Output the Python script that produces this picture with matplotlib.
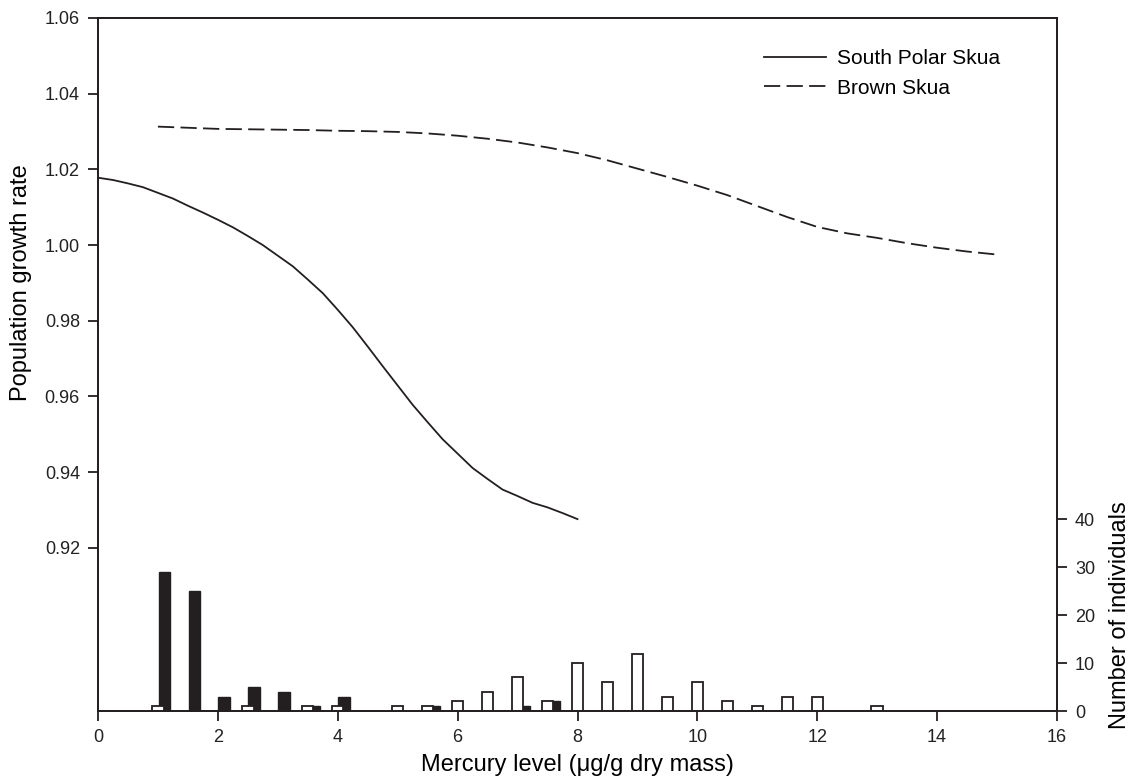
import numpy as np
import matplotlib
matplotlib.use('Agg')
import matplotlib.pyplot as plt

plt.rcParams['font.family'] = ['Liberation Sans', 'DejaVu Sans']

INK = '#231f20'

# population growth rate curves
sps_x = [0, 0.25, 0.5, 0.75, 1.0, 1.25, 1.5, 1.75, 2.0, 2.25, 2.5, 2.75, 3.0, 3.25,
         3.5, 3.75, 4.0, 4.25, 4.5, 4.75, 5.0, 5.25, 5.5, 5.75, 6.0, 6.25, 6.5,
         6.75, 7.0, 7.25, 7.5, 7.75, 8.0]
sps_y = [1.0178, 1.0172, 1.0163, 1.0153, 1.0138, 1.0123, 1.0104, 1.0086, 1.0067,
         1.0047, 1.0024, 1.0000, 0.9972, 0.9944, 0.9909, 0.9873, 0.9829, 0.9783,
         0.9732, 0.9680, 0.9629, 0.9578, 0.9532, 0.9487, 0.9449, 0.9411, 0.9382,
         0.9354, 0.9337, 0.9319, 0.9307, 0.9292, 0.9276]

brown_x = [1.0, 1.5, 2.0, 2.5, 3.0, 3.5, 4.0, 4.5, 5.0, 5.5, 6.0, 6.5, 7.0, 7.5,
           8.0, 8.5, 9.0, 9.5, 10.0, 10.5, 11.0, 11.5, 12.0, 12.5, 13.0, 13.5,
           14.0, 14.5, 15.0]
brown_y = [1.0313, 1.0310, 1.0307, 1.0306, 1.0305, 1.0304, 1.0302, 1.0301, 1.0299,
           1.0295, 1.0289, 1.0281, 1.0271, 1.0258, 1.0243, 1.0224, 1.0202, 1.0180,
           1.0157, 1.0132, 1.0103, 1.0074, 1.0048, 1.0031, 1.0019, 1.0005, 0.9993,
           0.9983, 0.9975]

# number of individuals per mercury class
bin_x = [1.0, 1.5, 2.0, 2.5, 3.0, 3.5, 4.0, 4.5, 5.0, 5.5, 6.0, 6.5, 7.0, 7.5,
         8.0, 8.5, 9.0, 9.5, 10.0, 10.5, 11.0, 11.5, 12.0, 12.5, 13.0]
brown_n = [1, 0, 0, 1, 0, 1, 1, 0, 1, 1, 2, 4, 7, 2,
           10, 6, 12, 3, 6, 2, 1, 3, 3, 0, 1]
sps_n = [29, 25, 3, 5, 4, 1, 3, 0, 0, 1, 0, 0, 1, 2,
         0, 0, 0, 0, 0, 0, 0, 0, 0, 0, 0]

fig = plt.figure(figsize=(11.31, 7.82), dpi=100)
ax = fig.add_axes([98 / 1131, 1 - 711 / 782, (1057 - 98) / 1131, (711 - 18) / 782])
ax2 = ax.twinx()

# bars on the secondary axis
bx = np.array(bin_x)
sn = np.array(sps_n)
bn = np.array(brown_n)
ax2.bar(bx[sn > 0] + 0.105, sn[sn > 0], width=0.19, color=INK, edgecolor=INK,
        linewidth=1.0, zorder=2)
ax2.bar(bx[bn > 0], bn[bn > 0], width=0.19, color='white', edgecolor=INK,
        linewidth=1.3, zorder=3)
ax2.set_ylim(0, 144.7)
ax2.set_yticks([0, 10, 20, 30, 40])
ax2.set_ylabel('Number of individuals', fontsize=17)
ax2.yaxis.set_label_coords(1.0545, 0.139)

# curves on the main axis (drawn above the bars)
ax.set_zorder(ax2.get_zorder() + 1)
ax.patch.set_visible(False)
ax.plot(sps_x, sps_y, color=INK, lw=1.3, label='South Polar Skua')
ax.plot(brown_x, brown_y, color=INK, lw=1.3, dashes=(9, 3.5), label='Brown Skua')

ax.set_xlim(0, 16)
ax.set_ylim(0.8769, 1.06)
ax.set_xticks(range(0, 17, 2))
yt = [0.92, 0.94, 0.96, 0.98, 1.00, 1.02, 1.04, 1.06]
ax.set_yticks(yt)
ax.set_yticklabels(['%.2f' % v for v in yt])
ax.set_xlabel('Mercury level (\u03bcg/g dry mass)', fontsize=17, labelpad=6)
ax.set_ylabel('Population growth rate', fontsize=17)
ax.yaxis.set_label_coords(-0.069, 0.618)

for a in (ax, ax2):
    a.tick_params(direction='out', length=7, width=1.3, labelsize=13, colors=INK,
                  labelcolor='#222222', pad=6)
    for s in a.spines.values():
        s.set_linewidth(1.3)
        s.set_color(INK)

leg = ax.legend(loc='upper right', bbox_to_anchor=(0.96, 0.982), frameon=False,
                fontsize=15, handlelength=3.0, handletextpad=0.5, labelspacing=0.5)

fig.savefig('out.png', dpi=100)
